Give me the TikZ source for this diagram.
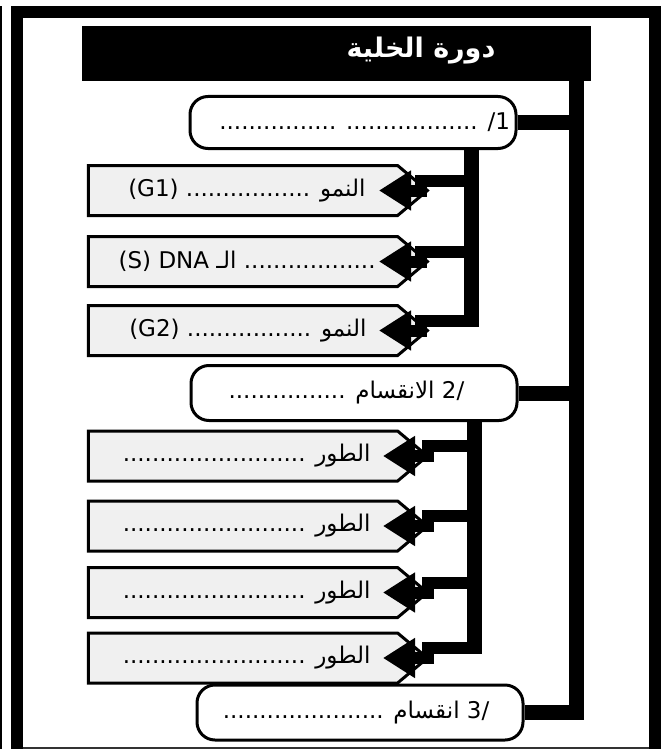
\documentclass[tikz,border=0pt]{standalone}
\usepackage{fontspec}
\setmainfont{DejaVu Sans}
\newfontfamily\arabicfont[Script=Arabic]{DejaVu Sans}
\TeXXeTstate=1
\usetikzlibrary{shapes.symbols, arrows.meta, positioning, calc}

\definecolor{boxgray}{HTML}{F0F0F0}

\begin{document}
\begin{tikzpicture}[
    x = 1pt, y = -1pt,
    headbar/.style = {rectangle, fill=black, minimum width=509pt,
                      minimum height=55pt, inner sep=0pt},
    head/.style    = {font=\arabicfont\bfseries\fontsize{27}{31}\selectfont,
                      text=white, inner sep=0pt},
    mainbox/.style = {rectangle, draw=black, line width=3pt, rounded corners=18pt,
                      fill=white, minimum width=326pt, minimum height=55pt, inner sep=0pt},
    stage/.style   = {signal, signal to=east, signal pointer angle=80,
                      draw=black, line width=3pt, fill=boxgray,
                      minimum width=339pt, minimum height=50pt, inner sep=0pt},
    lbl/.style     = {font=\fontsize{23}{27}\selectfont, inner sep=0pt},
    bus/.style     = {line width=15pt},
    branch/.style  = {line width=12pt, -{Triangle[length=32pt, width=38pt]}}
]
\useasboundingbox (0,0) rectangle (661,749);

%% -- Frame ---------------------------------------------------
\fill (0,6) rectangle (2,749);
\fill (11,6) rectangle (661,18);
\fill (11,6) rectangle (23,749);
\fill (649,6) rectangle (661,749);
\draw[line width=1.5pt, black!80] (23,748) -- (649,748);

%% -- Title ---------------------------------------------------
\node[headbar] (title) at (336.5,53.5) {};
\node[head] (headtxt) at (421,51) {\beginR دورة الخلية\endR};

%% -- Part 1 --------------------------------------------------
\node[mainbox, minimum height=52pt] (step1) at (353,122.5) {};
\node[lbl, left=7.5pt of step1.east] (step1txt) {................ .................. /1};

\node[stage] (g1) at (243,190.5) {};
\node[stage, below=18pt of g1]  (sph) {};
\node[stage, below=16pt of sph] (g2)  {};

\node[lbl, left=64pt of g1.east]  (g1txt) {(G1) ................. {\arabicfont\beginR النمو\endR}};
\node[lbl, left=54pt of sph.east] (stxt)  {(S) DNA {\arabicfont\beginR الـ\endR} ..................};
\node[lbl, left=63pt of g2.east]  (g2txt) {(G2) ................. {\arabicfont\beginR النمو\endR}};

%% -- Part 2 --------------------------------------------------
\node[mainbox] (step2) at (354,393) {};
\node[lbl, left=54pt of step2.east] (step2txt) {................ {\arabicfont\beginR الانقسام\endR} 2\kern0pt/};

\node[stage] (p1) at (243,456) {};
\node[stage, below=17pt of p1]   (p2) {};
\node[stage, below=13.5pt of p2] (p3) {};
\node[stage, below=12.5pt of p3] (p4) {};

\foreach \p in {p1,p2,p3,p4}
  \node[lbl, left=59pt of \p.east] (\p txt) {......................... {\arabicfont\beginR الطور\endR}};

%% -- Part 3 --------------------------------------------------
\node[mainbox] (step3) at (360,712.5) {};
\node[lbl, left=35pt of step3.east] (step3txt) {...................... {\arabicfont\beginR انقسام\endR} 3\kern0pt/};

%% -- Main bus ------------------------------------------------
\coordinate (bustop) at (576,81);
\coordinate (fork1)  at (471,150);
\coordinate (fork2)  at (474.5,422);
\coordinate (jog1)   at (421,0);
\coordinate (jog2)   at (428,0);
\coordinate (tip1)   at (379,0);
\coordinate (tip2)   at (383,0);

\draw[bus] (bustop) -- (bustop |- step3.east) -- (step3.east);
\draw[bus] (step1.east) -- (step1.east -| bustop);
\draw[bus] (step2.east) -- (step2.east -| bustop);

%% -- Branches: part 1 ----------------------------------------
\draw[bus] (step1.south -| fork1) -- ($(g2.east -| fork1)+(0,-4)$);
\foreach \b in {g1,sph,g2}
  \draw[branch] ($(\b.east -| fork1)+(0,-10)$) -| (\b.east -| jog1) -- (\b.east -| tip1);

%% -- Branches: part 2 ----------------------------------------
\draw[bus] (step2.south -| fork2) -- ($(p4.east -| fork2)+(0,-4)$);
\foreach \b in {p1,p2,p3,p4}
  \draw[branch] ($(\b.east -| fork2)+(0,-10)$) -| (\b.east -| jog2) -- (\b.east -| tip2);

\end{tikzpicture}
\end{document}
